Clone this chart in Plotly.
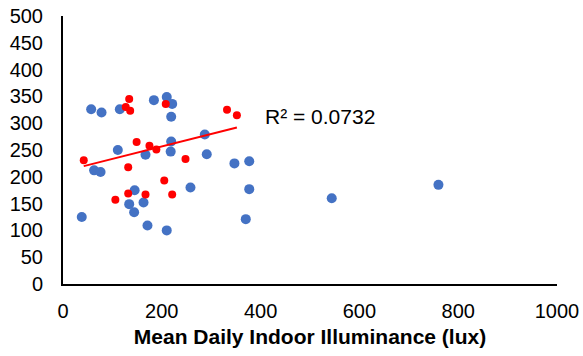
import numpy as np
import plotly.graph_objects as go

blue_x = [57, 78, 115, 184, 210, 221, 219, 111, 167, 219, 218, 63, 76, 258, 145, 134, 163, 144, 38, 171, 210, 287, 291, 347, 377, 377, 544, 370, 760]
blue_y = [326, 320, 326, 343, 349, 336, 312, 250, 241, 266, 247, 212, 209, 180, 175, 149, 152, 134, 125, 109, 100, 279, 242, 225, 229, 177, 160, 121, 185]

red_x = [42, 127, 134, 136, 208, 149, 175, 189, 248, 132, 205, 132, 167, 221, 106, 332, 352]
red_y = [231, 330, 345, 323, 336, 265, 258, 251, 233, 218, 193, 169, 167, 167, 157, 325, 315]

x_ticks = [0, 200, 400, 600, 800, 1000]
y_ticks = [0, 50, 100, 150, 200, 250, 300, 350, 400, 450, 500]
r2_label = "R² = 0.0732"
x_title = "Mean Daily Indoor Illuminance (lux)"

slope, intercept = np.polyfit(red_x, red_y, 1)
line_x = [min(red_x), max(red_x)]
line_y = [slope * v + intercept for v in line_x]

FONT = "Arial, Liberation Sans, sans-serif"

fig = go.Figure()
fig.add_trace(go.Scatter(x=blue_x, y=blue_y, mode="markers",
                         marker=dict(color="#4472C4", size=10), showlegend=False,
                         cliponaxis=False))
fig.add_trace(go.Scatter(x=red_x, y=red_y, mode="markers",
                         marker=dict(color="#FF0000", size=8), showlegend=False,
                         cliponaxis=False))
fig.add_trace(go.Scatter(x=line_x, y=line_y, mode="lines",
                         line=dict(color="#FF0000", width=2), showlegend=False))

fig.add_annotation(x=404, y=313, xref="x", yref="y", text=r2_label, showarrow=False,
                   xanchor="left", yanchor="middle", font=dict(family=FONT, size=21, color="#000"))

fig.update_layout(
    width=583, height=356,
    margin=dict(l=63, r=26, t=16, b=72),
    plot_bgcolor="white", paper_bgcolor="white",
    font=dict(family=FONT, size=20, color="#000"),
)
fig.update_xaxes(range=[0, 1000], tickvals=x_ticks, showgrid=False, zeroline=False,
                 showline=True, linecolor="#000", linewidth=2, ticks="",
                 ticklabelstandoff=8, automargin=False,
                 title=dict(text="<b>" + x_title + "</b>", font=dict(size=21), standoff=8))
fig.update_yaxes(range=[0, 500], tickvals=y_ticks, showgrid=False, zeroline=False,
                 showline=True, linecolor="#000", linewidth=2, ticks="",
                 ticklabelstandoff=14, automargin=False)

fig.write_html("out.html")
